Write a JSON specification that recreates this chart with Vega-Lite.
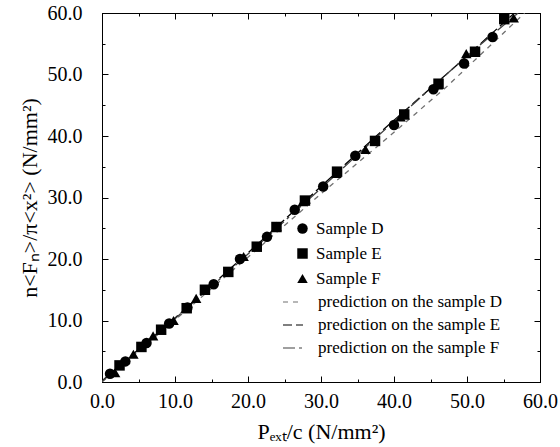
{
  "$schema": "https://vega.github.io/schema/vega-lite/v6.json",
  "width": 438,
  "height": 369,
  "autosize": {"type": "none"},
  "padding": {"left": 102, "top": 13, "right": 20, "bottom": 65},
  "background": "white",
  "config": {
    "font": "Liberation Serif, Times New Roman, serif",
    "view": {"stroke": "black", "strokeWidth": 1},
    "axis": {
      "grid": false,
      "domainColor": "black",
      "tickColor": "black",
      "labelColor": "black",
      "labelFont": "Liberation Serif, Times New Roman, serif",
      "labelFontSize": 20,
      "labelFlush": false,
      "titleFont": "Liberation Serif, Times New Roman, serif",
      "titleFontSize": 22,
      "titleFontWeight": "normal",
      "titleColor": "black"
    },
    "legend": {
      "labelFont": "Liberation Serif, Times New Roman, serif",
      "labelFontSize": 17,
      "labelColor": "black",
      "labelLimit": 0,
      "padding": 0
    }
  },
  "datasets": {
    "points": [
      {"x": 1.1, "y": 1.35, "sample": "Sample D"},
      {"x": 3.2, "y": 3.35, "sample": "Sample D"},
      {"x": 6.1, "y": 6.35, "sample": "Sample D"},
      {"x": 9.2, "y": 9.5, "sample": "Sample D"},
      {"x": 11.7, "y": 12.1, "sample": "Sample D"},
      {"x": 15.3, "y": 15.9, "sample": "Sample D"},
      {"x": 18.9, "y": 20.0, "sample": "Sample D"},
      {"x": 22.6, "y": 23.6, "sample": "Sample D"},
      {"x": 26.4, "y": 28.0, "sample": "Sample D"},
      {"x": 30.3, "y": 31.8, "sample": "Sample D"},
      {"x": 34.7, "y": 36.8, "sample": "Sample D"},
      {"x": 40.0, "y": 41.8, "sample": "Sample D"},
      {"x": 45.4, "y": 47.6, "sample": "Sample D"},
      {"x": 49.6, "y": 51.8, "sample": "Sample D"},
      {"x": 53.5, "y": 56.1, "sample": "Sample D"},
      {"x": 2.4, "y": 2.7, "sample": "Sample E"},
      {"x": 5.4, "y": 5.7, "sample": "Sample E"},
      {"x": 8.1, "y": 8.5, "sample": "Sample E"},
      {"x": 11.6, "y": 12.0, "sample": "Sample E"},
      {"x": 14.1, "y": 15.0, "sample": "Sample E"},
      {"x": 17.3, "y": 17.9, "sample": "Sample E"},
      {"x": 21.2, "y": 22.0, "sample": "Sample E"},
      {"x": 23.9, "y": 25.2, "sample": "Sample E"},
      {"x": 27.8, "y": 29.5, "sample": "Sample E"},
      {"x": 32.2, "y": 34.2, "sample": "Sample E"},
      {"x": 37.4, "y": 39.2, "sample": "Sample E"},
      {"x": 41.4, "y": 43.5, "sample": "Sample E"},
      {"x": 46.1, "y": 48.5, "sample": "Sample E"},
      {"x": 51.1, "y": 53.7, "sample": "Sample E"},
      {"x": 55.1, "y": 59.0, "sample": "Sample E"},
      {"x": 1.8, "y": 1.5, "sample": "Sample F"},
      {"x": 4.3, "y": 4.5, "sample": "Sample F"},
      {"x": 7.0, "y": 7.5, "sample": "Sample F"},
      {"x": 9.8, "y": 10.0, "sample": "Sample F"},
      {"x": 12.9, "y": 13.6, "sample": "Sample F"},
      {"x": 19.4, "y": 20.4, "sample": "Sample F"},
      {"x": 23.9, "y": 25.3, "sample": "Sample F"},
      {"x": 27.5, "y": 29.3, "sample": "Sample F"},
      {"x": 32.1, "y": 33.9, "sample": "Sample F"},
      {"x": 36.1, "y": 37.8, "sample": "Sample F"},
      {"x": 40.9, "y": 43.1, "sample": "Sample F"},
      {"x": 46.0, "y": 48.3, "sample": "Sample F"},
      {"x": 49.9, "y": 53.4, "sample": "Sample F"},
      {"x": 56.4, "y": 59.2, "sample": "Sample F"}
    ],
    "lines": [
      {"x": 0, "y": 0.0, "series": "prediction on the sample D"},
      {"x": 10, "y": 10.1, "series": "prediction on the sample D"},
      {"x": 20, "y": 20.3, "series": "prediction on the sample D"},
      {"x": 30, "y": 30.6, "series": "prediction on the sample D"},
      {"x": 40, "y": 40.6, "series": "prediction on the sample D"},
      {"x": 47.2, "y": 48.0, "series": "prediction on the sample D"},
      {"x": 57.9, "y": 60.0, "series": "prediction on the sample D"},
      {"x": 0, "y": 0.2, "series": "prediction on the sample E"},
      {"x": 10, "y": 10.4, "series": "prediction on the sample E"},
      {"x": 20, "y": 21.0, "series": "prediction on the sample E"},
      {"x": 30, "y": 31.8, "series": "prediction on the sample E"},
      {"x": 38.5, "y": 41.0, "series": "prediction on the sample E"},
      {"x": 48.4, "y": 51.3, "series": "prediction on the sample E"},
      {"x": 56.5, "y": 60.0, "series": "prediction on the sample E"},
      {"x": 0, "y": 0.1, "series": "prediction on the sample F"},
      {"x": 10, "y": 10.3, "series": "prediction on the sample F"},
      {"x": 20, "y": 20.8, "series": "prediction on the sample F"},
      {"x": 30, "y": 31.5, "series": "prediction on the sample F"},
      {"x": 40, "y": 42.4, "series": "prediction on the sample F"},
      {"x": 50, "y": 53.0, "series": "prediction on the sample F"},
      {"x": 57.0, "y": 60.0, "series": "prediction on the sample F"}
    ]
  },
  "layer": [
    {
      "data": {"name": "lines"},
      "mark": {"type": "line", "strokeWidth": 1.3, "clip": true},
      "encoding": {
        "x": {
          "field": "x", "type": "quantitative",
          "scale": {"domain": [0, 60], "nice": false, "zero": false},
          "axis": {
            "orient": "top", "title": null, "labels": false,
            "values": [0, 5, 10, 15, 20, 25, 30, 35, 40, 45, 50, 55, 60],
            "tickSize": {"condition": {"test": "datum.value % 10 === 0", "value": -6}, "value": -3}
          }
        },
        "y": {
          "field": "y", "type": "quantitative",
          "scale": {"domain": [0, 60], "nice": false, "zero": false},
          "axis": {
            "orient": "right", "title": null, "labels": false,
            "values": [0, 5, 10, 15, 20, 25, 30, 35, 40, 45, 50, 55, 60],
            "tickSize": {"condition": {"test": "datum.value % 10 === 0", "value": -6}, "value": -3}
          }
        },
        "color": {
          "field": "series", "type": "nominal",
          "scale": {"range": ["#707070", "#000000", "#404040"]},
          "legend": {
            "title": null, "orient": "none", "legendX": 180, "legendY": 278,
            "symbolType": "stroke", "symbolSize": 400, "symbolStrokeWidth": 1.2,
            "labelOffset": 14, "rowPadding": 4, "labelFont": "Liberation Serif, Times New Roman, serif"
          }
        },
        "strokeDash": {
          "field": "series", "type": "nominal",
          "scale": {"range": [[5, 5], [9, 4], [12, 4, 3, 4]]},
          "legend": {
            "title": null, "orient": "none", "legendX": 180, "legendY": 278,
            "symbolType": "stroke", "symbolSize": 400, "symbolStrokeWidth": 1.2,
            "labelOffset": 14, "rowPadding": 4, "labelFont": "Liberation Serif, Times New Roman, serif"
          }
        }
      }
    },
    {
      "data": {"name": "points"},
      "mark": {"type": "point", "filled": true, "color": "black", "opacity": 1, "size": 110},
      "encoding": {
        "x": {
          "field": "x", "type": "quantitative",
          "scale": {"domain": [0, 60], "nice": false, "zero": false},
          "axis": {
            "orient": "bottom", "title": "Pₑₓₜ/c (N/mm²)",
            "values": [0, 5, 10, 15, 20, 25, 30, 35, 40, 45, 50, 55, 60],
            "labelExpr": "datum.value % 10 === 0 ? format(datum.value, '.1f') : ''",
            "tickSize": {"condition": {"test": "datum.value % 10 === 0", "value": -6}, "value": -3},
            "labelPadding": 15, "titlePadding": 10
          }
        },
        "y": {
          "field": "y", "type": "quantitative",
          "scale": {"domain": [0, 60], "nice": false, "zero": false},
          "axis": {
            "orient": "left", "title": "n<Fₙ>/π<x²> (N/mm²)",
            "values": [0, 5, 10, 15, 20, 25, 30, 35, 40, 45, 50, 55, 60],
            "labelExpr": "datum.value % 10 === 0 ? format(datum.value, '.1f') : ''",
            "tickSize": {"condition": {"test": "datum.value % 10 === 0", "value": -6}, "value": -3},
            "labelPadding": 26, "titlePadding": 6
          }
        },
        "shape": {
          "field": "sample", "type": "nominal",
          "scale": {"domain": ["Sample D", "Sample E", "Sample F"], "range": ["circle", "square", "triangle-up"]},
          "legend": {
            "title": null, "orient": "none", "legendX": 192, "legendY": 207,
            "symbolSize": 110, "symbolFillColor": "black", "symbolStrokeColor": "black",
            "labelOffset": 5, "rowPadding": 7, "labelFont": "Liberation Serif, Times New Roman, serif"
          }
        }
      }
    }
  ],
  "resolve": {"axis": {"x": "independent", "y": "independent"}}
}
